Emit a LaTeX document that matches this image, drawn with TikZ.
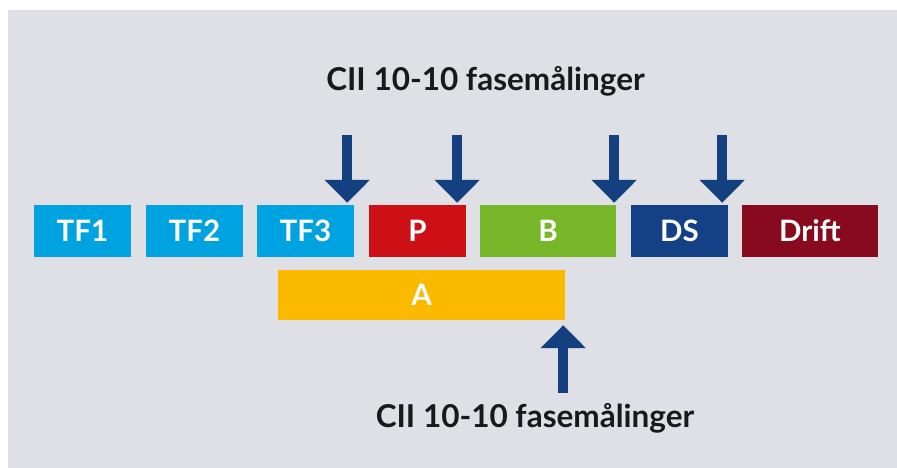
\documentclass[tikz,border=0pt]{standalone}
\usepackage{fontspec}
\setmainfont{Lato}[UprightFont=* Bold]
\usetikzlibrary{arrows.meta}
\definecolor{bggray}{HTML}{DEE0E5}
\definecolor{tfblue}{HTML}{00A3E0}
\definecolor{pred}{HTML}{CC1016}
\definecolor{bgreen}{HTML}{78B72A}
\definecolor{dsnavy}{HTML}{144185}
\definecolor{driftred}{HTML}{870A1E}
\definecolor{aamber}{HTML}{FBBA00}
\definecolor{arrownavy}{HTML}{14407F}
\tikzset{
  phase/.style={draw=none, fill=#1, text=white, inner sep=0pt,
    minimum height=52pt, font=\fontsize{29.5}{30}\selectfont},
  marker/.style={line width=10.5pt, draw=arrownavy,
    -{Triangle[width=44pt,length=23pt,fill=arrownavy]}},
  caption/.style={text=black!90, inner sep=0pt, anchor=base,
    font=\fontsize{31.5}{32}\selectfont}
}
\begin{document}
\begin{tikzpicture}[x=1pt, y=-1pt]
  \useasboundingbox (0,0) rectangle (897,468);
  \fill[bggray] (8,10) rectangle (897,468);

  % phase boxes
  \node[phase=tfblue, minimum width=97pt]   (tf1)   at (82.5,231) {TF1};
  \node[phase=tfblue, minimum width=97pt]   (tf2)   at (194.5,231) {TF2};
  \node[phase=tfblue, minimum width=97pt]   (tf3)   at (305.5,231) {TF3};
  \node[phase=pred, minimum width=97pt]     (p)     at (417.5,231) {P};
  \node[phase=bgreen, minimum width=136pt]  (b)     at (548,231) {B};
  \node[phase=dsnavy, minimum width=97pt]   (ds)    at (679.5,231) {DS};
  \node[phase=driftred, minimum width=136pt](drift) at (810,231) {Drift};
  \node[phase=aamber, minimum width=287pt, minimum height=50pt] (a) at (421.5,295) {A};

  % captions
  \node[caption] (top) at (485.5,91) {CII 10-10 fasemålinger};
  \node[caption] (bot) at (535,427) {CII 10-10 fasemålinger};

  % measurement markers
  \foreach \n/\dx in {tf3/-7, p/-9, b/-2, ds/-6} {
    \coordinate (tip-\n) at ([xshift=\dx pt, yshift=2pt]\n.north east);
    \draw[marker] ([yshift=68pt]tip-\n) -- (tip-\n);
  }
  \coordinate (tip-a) at ([xshift=-2pt, yshift=-5pt]a.south east);
  \draw[marker] ([yshift=-68pt]tip-a) -- (tip-a);
\end{tikzpicture}
\end{document}
